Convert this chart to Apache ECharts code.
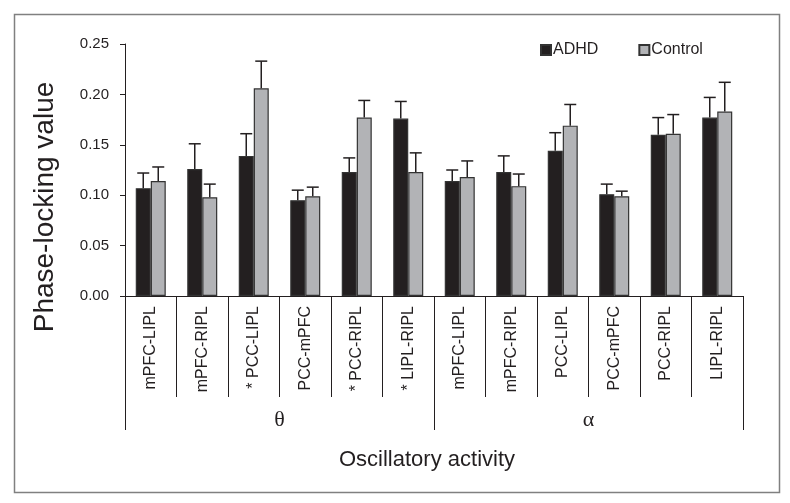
<!DOCTYPE html>
<html>
<head>
<meta charset="utf-8">
<script src="https://cdn.jsdelivr.net/npm/echarts@6/dist/echarts.min.js"></script>
<style>
html,body{margin:0;padding:0;background:#fff;}
#chart{width:790px;height:503px;}
</style>
</head>
<body>
<div id="chart"></div>
<script>
const categories = ['mPFC-LIPL','mPFC-RIPL','* PCC-LIPL','PCC-mPFC','* PCC-RIPL','* LIPL-RIPL','mPFC-LIPL','mPFC-RIPL','PCC-LIPL','PCC-mPFC','PCC-RIPL','LIPL-RIPL'];
const groups = ['θ','α'];
const adhdMean = [0.107, 0.126, 0.139, 0.095, 0.123, 0.176, 0.114, 0.123, 0.144, 0.101, 0.160, 0.177];
const adhdErr  = [0.015, 0.025, 0.022, 0.010, 0.014, 0.017, 0.011, 0.016, 0.018, 0.010, 0.017, 0.020];
const ctrlMean = [0.114, 0.098, 0.206, 0.099, 0.177, 0.123, 0.118, 0.109, 0.169, 0.099, 0.161, 0.183];
const ctrlErr  = [0.014, 0.013, 0.027, 0.009, 0.017, 0.019, 0.016, 0.012, 0.021, 0.005, 0.019, 0.029];
const yTicks = [0, 0.05, 0.10, 0.15, 0.20, 0.25];

const BAR_W = 15;
const DARK = '#231f20';
const chart = echarts.init(document.getElementById('chart'));

function errSeries(name, mean, err, side) {
  return {
    type: 'custom',
    name: name + ' err',
    xAxisIndex: 0,
    data: mean.map((m, i) => [i, m, err[i]]),
    encode: {x: 0, y: 1},
    z: 3,
    renderItem: function (params, api) {
      const i = api.value(0), m = api.value(1), e = api.value(2);
      const p0 = api.coord([i, m]);
      const p1 = api.coord([i, m + e]);
      const x = p0[0] + side * BAR_W / 2;
      const cap = 6;
      return {
        type: 'group',
        children: [
          {type: 'line', shape: {x1: x, y1: p0[1], x2: x, y2: p1[1]}, style: {stroke: DARK, lineWidth: 1.5}},
          {type: 'line', shape: {x1: x - cap, y1: p1[1], x2: x + cap, y2: p1[1]}, style: {stroke: DARK, lineWidth: 1.5}}
        ]
      };
    }
  };
}

const option = {
  animation: false,
  backgroundColor: '#fff',
  textStyle: {fontFamily: 'Liberation Sans, Arial, sans-serif', color: DARK},
  grid: {left: 125, right: 47, top: 44, bottom: 207, containLabel: false},
  legend: {
    data: ['ADHD', 'Control'],
    left: 540, top: 42, padding: 0,
    itemWidth: 10, itemHeight: 10, itemGap: 40,
    icon: 'rect',
    textStyle: {fontSize: 16, color: DARK, padding: [0, 0, 0, -3]}
  },
  xAxis: [
    {
      type: 'category',
      data: categories,
      axisLine: {lineStyle: {color: DARK, width: 1}},
      axisTick: {show: true, interval: 0, length: 101, lineStyle: {color: DARK, width: 1}},
      axisLabel: {interval: 0, rotate: 90, margin: 10, fontSize: 16, color: DARK}
    },
    {
      type: 'category',
      data: groups,
      position: 'bottom',
      axisLine: {show: false},
      axisTick: {show: true, interval: 0, length: 134, lineStyle: {color: DARK, width: 1}},
      axisLabel: {interval: 0, margin: 113, fontSize: 22, color: DARK, fontFamily: 'Liberation Serif, Times New Roman, serif'}
    }
  ],
  yAxis: {
    type: 'value',
    min: yTicks[0], max: yTicks[yTicks.length - 1], interval: 0.05,
    axisLine: {show: true, lineStyle: {color: DARK, width: 1}},
    axisTick: {show: true, length: 5, lineStyle: {color: DARK}},
    splitLine: {show: false},
    axisLabel: {fontSize: 15, color: DARK, margin: 16, formatter: v => v.toFixed(2)}
  },
  series: [
    {
      name: 'ADHD', type: 'bar', data: adhdMean, barWidth: BAR_W, barGap: '0%',
      itemStyle: {color: DARK, borderColor: '#333', borderWidth: 1.2}
    },
    {
      name: 'Control', type: 'bar', data: ctrlMean, barWidth: BAR_W, barGap: '0%',
      itemStyle: {color: '#b2b3b6', borderColor: '#333', borderWidth: 1.2}
    },
    errSeries('ADHD', adhdMean, adhdErr, -1),
    errSeries('Control', ctrlMean, ctrlErr, 1)
  ],
  graphic: [
    {type: 'rect', left: 12, top: 12, shape: {x: 0, y: 0, width: 765, height: 478},
     style: {fill: 'none', stroke: '#808080', lineWidth: 1.5}, silent: true},
    {type: 'text', x: 45, y: 207, rotation: Math.PI / 2,
     style: {text: 'Phase-locking value', fontSize: 28, fill: DARK, fontFamily: 'Liberation Sans, Arial, sans-serif', align: 'center', verticalAlign: 'middle'}},
    {type: 'text', x: 427, y: 460,
     style: {text: 'Oscillatory activity', fontSize: 22, fill: DARK, fontFamily: 'Liberation Sans, Arial, sans-serif', align: 'center', verticalAlign: 'middle'}}
  ]
};
chart.setOption(option);
</script>
</body>
</html>
